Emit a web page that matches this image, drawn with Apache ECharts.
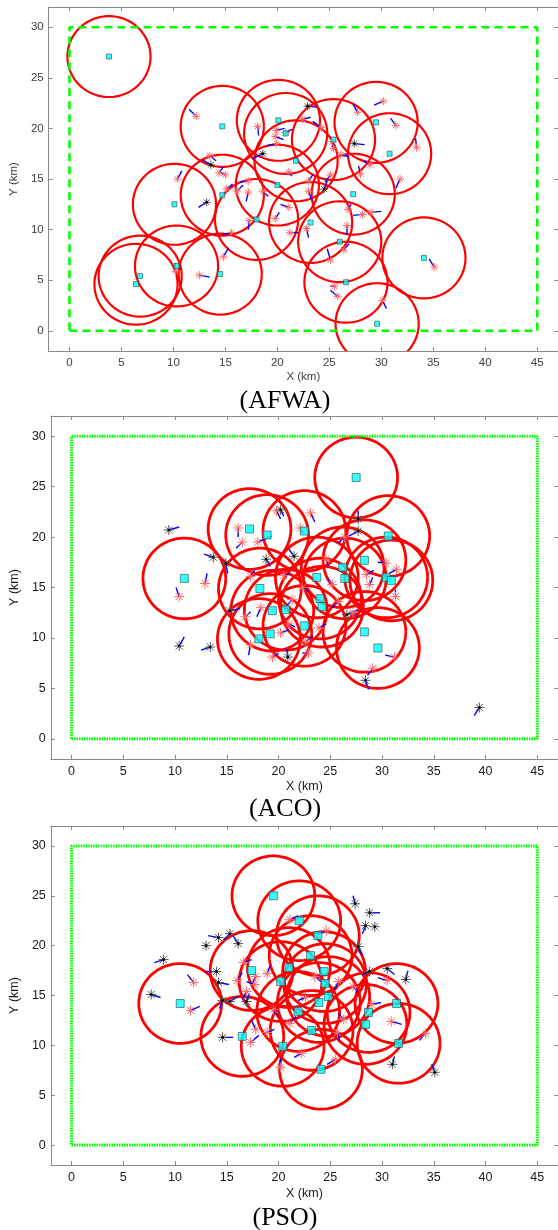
<!DOCTYPE html>
<html>
<head>
<meta charset="utf-8">
<script src="https://cdn.jsdelivr.net/npm/echarts@6/dist/echarts.min.js"></script>
<style>
  html, body { margin: 0; padding: 0; background: #fff; }
  #chart { width: 558px; height: 1230px; }
</style>
</head>
<body>
<div id="chart"></div>
<script>
// area boundary (km) and sensing radius
const boundary = [[0, 0], [45, 0], [45, 30], [0, 30], [0, 0]];
const sensingRadius = 4;
const tickValuesX = [0, 5, 10, 15, 20, 25, 30, 35, 40, 45];
const tickValuesY = [0, 5, 10, 15, 20, 25, 30];
const titles = ['(AFWA)', '(ACO)', '(PSO)'];

// ---- AFWA ----
const afwaCenters = [
  [3.8, 27.1], [14.7, 20.2], [20.1, 20.8], [20.8, 19.5], [25.4, 18.9], [29.5, 20.6],
  [30.8, 17.5], [21.8, 16.8], [20.0, 14.4], [14.7, 13.4], [10.1, 12.5], [18.0, 11.0],
  [27.3, 13.5], [23.2, 10.7], [26.0, 8.8], [34.1, 7.2], [26.6, 4.8], [29.6, 0.7],
  [10.3, 6.4], [14.5, 5.6], [6.8, 5.4], [6.4, 4.6]
];
// [x, y, dx, dy] : node position and its heading segment
const afwaCovered = [
  [12.2, 21.2, -0.7, 0.7], [18.1, 20.2, 0.1, -0.9], [19.9, 19.8, 0.8, 0.2], [19.8, 19.2, 0.8, -0.3],
  [19.9, 18.5, -0.9, -0.2], [13.5, 17.3, 0.6, -0.5], [14.4, 15.6, 0.4, 0.6], [15.0, 15.4, -0.5, 0.3],
  [10.4, 15.0, 0.4, 0.8], [15.1, 14.0, 0.6, 0.5], [17.2, 14.8, -0.8, -0.1], [17.2, 13.7, -0.2, -0.9],
  [16.1, 13.8, 0.6, 0.6], [30.2, 22.7, -0.9, -0.4], [27.7, 21.6, -0.4, 0.8], [31.4, 20.3, -0.5, 0.7],
  [33.4, 18.1, -0.1, 0.9], [22.4, 20.9, 0.8, 0.2], [24.2, 20.1, -0.8, 0.6], [25.3, 18.7, 0.1, -0.8],
  [25.4, 18.0, -0.2, 0.8], [28.0, 15.5, -0.2, 0.8], [28.9, 16.4, -0.6, 0.4], [31.8, 15.0, -0.4, -0.9],
  [26.1, 17.4, 0.8, -0.2], [25.1, 15.4, -0.5, -0.7], [21.1, 15.7, 0.3, -0.4], [20.8, 19.6, 0.6, 0.3],
  [23.0, 14.8, 0.4, 0.6], [23.0, 13.8, 0.3, -0.9], [21.1, 12.2, -0.8, 0.3], [21.2, 9.7, 0.8, 0.0],
  [22.8, 10.1, 0.2, -0.9], [26.8, 12.0, 0.3, 0.5], [28.2, 11.5, -0.9, -0.1], [29.0, 11.7, 1.0, 0.1],
  [26.7, 10.4, 0.0, -0.9], [26.4, 8.0, 0.5, 0.6], [25.1, 7.0, -0.3, 1.1], [35.1, 6.3, -0.5, 0.8],
  [25.5, 4.4, -0.4, 0.0], [25.8, 3.4, -0.7, 0.6], [30.1, 3.0, 0.4, -0.8], [17.3, 10.9, -0.1, -0.9],
  [15.6, 9.7, -0.9, -0.2], [14.8, 7.3, 0.5, 0.9], [10.2, 5.9, 0.0, 0.8], [12.5, 5.5, 1.0, -0.2],
  [19.8, 11.1, 0.4, 0.6], [18.6, 13.8, 0.5, -0.5]
];
const afwaUncovered = [
  [13.6, 16.4, -0.8, 0.5], [18.6, 17.5, -1.0, -0.5], [22.9, 22.2, 0.9, -0.1],
  [27.4, 18.5, 1.0, -0.1], [24.5, 14.0, 0.3, 0.8], [13.2, 12.7, -0.8, -0.5]
];

// ---- ACO ----
const acoCenters = [
  [27.5, 25.9], [17.2, 20.8], [18.9, 20.2], [22.5, 20.6], [30.6, 20.1], [10.9, 15.9],
  [28.3, 17.7], [26.2, 17.0], [26.4, 15.9], [30.4, 16.0], [30.9, 15.7], [23.7, 16.0],
  [24.0, 13.9], [24.2, 13.1], [18.2, 14.9], [19.4, 12.7], [20.7, 12.8], [22.5, 11.2],
  [28.3, 10.6], [29.6, 9.0], [18.1, 9.9], [19.2, 10.4]
];
const acoCovered = [
  [16.1, 20.9, 0.0, -0.9], [16.5, 19.5, -0.6, -0.6], [18.0, 19.5, 1.3, 0.6], [12.9, 15.4, 0.2, 1.0],
  [10.4, 14.1, -0.3, 0.9], [17.3, 16.1, 0.4, 0.6], [19.8, 22.6, 0.4, -0.8], [23.1, 22.4, 0.4, -0.9],
  [22.1, 20.9, 0.3, -0.5], [26.4, 20.0, -0.6, -0.6], [30.4, 17.4, -0.8, 0.1], [31.4, 16.8, -0.7, -0.4],
  [28.8, 15.3, 0.3, 0.7], [28.5, 16.3, 0.7, 0.4], [31.3, 14.1, 0.0, 0.7], [25.2, 15.3, -0.4, 0.5],
  [23.9, 11.0, 0.7, 0.4], [22.6, 9.6, 0.7, 0.6], [22.9, 8.5, -0.6, 0.0], [29.1, 7.0, -0.5, -0.7],
  [31.2, 8.1, -0.9, 0.2], [20.2, 10.5, 0.8, 0.3], [17.3, 9.3, -0.2, -1.0], [18.3, 13.0, -0.4, -0.9],
  [19.4, 8.1, 0.6, 0.4], [16.8, 12.1, 0.5, 0.5], [21.3, 13.8, -0.5, -0.6], [22.3, 15.0, 0.6, -0.4],
  [25.8, 13.6, -0.6, -0.6], [27.2, 12.5, 0.5, -0.5], [20.5, 16.2, 0.6, 0.2], [24.6, 17.8, 0.2, -0.7],
  [21.0, 11.4, 0.6, -0.3]
];
const acoUncovered = [
  [9.4, 20.7, 1.0, 0.3], [13.7, 18.0, -0.9, 0.3], [14.9, 17.4, 0.2, -1.0], [15.3, 12.7, 1.0, 0.2],
  [10.4, 9.2, 0.5, 0.9], [13.4, 9.1, -0.9, -0.3], [26.6, 12.3, 1.1, 0.5], [28.4, 5.8, 0.3, -0.9],
  [39.4, 3.1, -0.5, -0.8], [20.9, 8.1, -0.1, 0.8], [27.7, 21.8, 0.0, 0.8], [27.7, 20.6, -0.9, -0.5],
  [21.5, 18.1, -0.5, 0.7], [20.2, 22.7, 0.3, -0.6], [18.8, 17.8, 0.4, -0.7]
];

// ---- PSO ----
const psoCenters = [
  [19.5, 25.0], [22.0, 22.5], [23.8, 21.0], [23.1, 19.0], [21.0, 17.8], [17.4, 17.5],
  [24.4, 17.4], [20.2, 16.4], [24.5, 16.2], [10.5, 14.2], [24.8, 14.9], [23.9, 14.3],
  [21.9, 13.4], [31.4, 14.2], [28.7, 13.3], [28.4, 12.1], [23.2, 11.5], [16.5, 10.9],
  [20.4, 9.9], [31.6, 10.2], [24.1, 7.6]
];
const psoCovered = [
  [11.8, 16.3, -0.6, 0.8], [11.5, 13.5, 0.9, 0.4], [16.6, 18.3, 0.8, 0.3], [16.0, 16.5, 0.5, 0.8],
  [17.8, 16.9, -0.4, -0.8], [18.9, 17.2, 0.3, 0.8], [17.7, 16.1, -0.8, 0.3], [16.9, 15.4, -0.4, -0.8],
  [21.1, 22.6, 0.8, 0.4], [24.6, 21.5, -0.8, -0.4], [23.5, 16.9, 0.6, -0.5], [25.8, 16.4, -0.4, -0.8],
  [30.5, 16.5, -0.9, 0.3], [30.9, 12.4, 1.0, -0.3], [29.0, 14.1, 0.9, 0.2], [27.2, 15.9, 0.5, -0.6],
  [34.2, 11.2, -0.6, -0.7], [25.5, 8.6, -0.8, -0.5], [21.1, 12.2, 0.6, 0.7], [20.2, 7.8, 0.0, 0.9],
  [17.3, 10.3, 0.8, 0.7], [17.8, 11.6, -0.4, 0.9], [18.9, 11.3, 0.7, 0.3], [22.6, 14.8, -0.7, -0.3],
  [26.3, 12.6, -0.5, 0.6], [19.5, 13.6, 0.5, -0.7], [25.7, 11.3, 0.2, -0.9], [22.2, 9.2, -0.7, -0.4]
];
const psoUncovered = [
  [7.7, 15.1, 0.9, -0.3], [8.9, 18.6, -0.9, -0.3], [13.0, 20.0, 0, 0], [14.2, 20.8, -1.0, 0.2],
  [15.3, 21.2, -0.6, -0.6], [16.1, 20.2, -0.5, 0.8], [14.0, 17.4, -1.0, 0.0], [14.2, 16.3, 1.0, -0.2],
  [14.6, 14.5, -0.3, -0.8], [15.3, 14.4, 0.8, 0.5], [16.9, 14.4, 0.3, 0.8], [14.6, 10.8, 1.0, 0.0],
  [27.4, 24.2, -0.2, 0.8], [28.8, 23.3, 1.0, 0.0], [28.4, 22.0, -0.3, -0.8], [29.3, 21.9, 0, 0],
  [27.7, 19.9, 0.4, -0.9], [28.8, 17.4, -0.7, -0.3], [30.5, 17.7, 0.7, -0.6], [32.3, 16.6, 0.2, 0.9],
  [31.0, 8.1, 0.2, 0.8], [35.1, 7.3, -0.3, 0.8]
];

const panels = [
  { grid: { left: 42, top: 7, width: 518, height: 344 }, centers: afwaCenters, covered: afwaCovered,
    uncovered: afwaUncovered, dash: [8, 5], boundW: 2.6, lab: 11.5, labColor: '#404040', sq: 5, circW: 2.2,
    star: 4, titleY: 401, nameGapX: 20, nameGapY: 19 },
  { grid: { left: 46, top: 416, width: 514, height: 343 }, centers: acoCenters, covered: acoCovered,
    uncovered: acoUncovered, dash: [1.5, 1], boundW: 3, lab: 12.5, labColor: '#1a1a1a', sq: 8, circW: 2.8,
    star: 5, titleY: 809, nameGapX: 21, nameGapY: 24 },
  { grid: { left: 49, top: 826, width: 513, height: 339 }, centers: psoCenters, covered: psoCovered,
    uncovered: psoUncovered, dash: [1.5, 1], boundW: 3, lab: 12.5, labColor: '#1a1a1a', sq: 8, circW: 2.8,
    star: 5, titleY: 1218, nameGapX: 22, nameGapY: 24 }
];

const axisGrey = '#8a8a8a';

function circleItem(lw) {
  return function (params, api) {
    const cx = api.value(0), cy = api.value(1);
    const pts = [];
    for (let k = 0; k <= 90; k++) {
      const a = k / 90 * Math.PI * 2;
      pts.push(api.coord([cx + sensingRadius * Math.cos(a), cy + sensingRadius * Math.sin(a)]));
    }
    return { type: 'polyline', shape: { points: pts }, style: { stroke: '#ff0000', lineWidth: lw, fill: 'none' } };
  };
}

function headingItem(params, api) {
  const dx = api.value(2), dy = api.value(3);
  if (dx === 0 && dy === 0) return null;
  const p0 = api.coord([api.value(0), api.value(1)]);
  const p1 = api.coord([api.value(0) + dx, api.value(1) + dy]);
  return { type: 'line', shape: { x1: p0[0], y1: p0[1], x2: p1[0], y2: p1[1] },
    style: { stroke: '#0000ff', lineWidth: 1.4 } };
}

function starItem(color, r, w, dot) {
  return function (params, api) {
    const c = api.coord([api.value(0), api.value(1)]);
    const kids = [];
    for (let k = 0; k < 4; k++) {
      const a = k * Math.PI / 4;
      const ux = Math.cos(a) * r, uy = Math.sin(a) * r;
      kids.push({ type: 'line', shape: { x1: c[0] - ux, y1: c[1] - uy, x2: c[0] + ux, y2: c[1] + uy },
        style: { stroke: color, lineWidth: w } });
    }
    if (dot) {
      kids.push({ type: 'circle', shape: { cx: c[0], cy: c[1], r: 1.3 }, style: { fill: dot } });
    }
    return { type: 'group', children: kids };
  };
}

const grids = [], xAxes = [], yAxes = [], series = [], graphics = [];

panels.forEach(function (p, i) {
  grids.push(p.grid);
  const labelFont = { fontFamily: 'Liberation Sans', fontSize: p.lab, color: p.labColor };
  const line = { onZero: false, lineStyle: { color: axisGrey, width: 1 } };
  xAxes.push({
    gridIndex: i, type: 'value', min: -2, max: 47, position: 'bottom',
    name: 'X (km)', nameLocation: 'middle', nameGap: p.nameGapX,
    nameTextStyle: labelFont,
    axisLine: line,
    axisTick: { inside: true, length: 4, customValues: tickValuesX, lineStyle: { color: axisGrey } },
    axisLabel: Object.assign({ customValues: tickValuesX, margin: 6 }, labelFont),
    splitLine: { show: false }
  });
  xAxes.push({
    gridIndex: i, type: 'value', min: -2, max: 47, position: 'top',
    axisLine: line,
    axisTick: { inside: true, length: 4, customValues: tickValuesX, lineStyle: { color: axisGrey } },
    axisLabel: { show: false }, splitLine: { show: false }
  });
  yAxes.push({
    gridIndex: i, type: 'value', min: -2, max: 32, position: 'left',
    name: 'Y (km)', nameLocation: 'middle', nameGap: p.nameGapY,
    nameTextStyle: labelFont,
    axisLine: line,
    axisTick: { inside: true, length: 4, customValues: tickValuesY, lineStyle: { color: axisGrey } },
    axisLabel: Object.assign({ customValues: tickValuesY, margin: 5 }, labelFont),
    splitLine: { show: false }
  });
  yAxes.push({
    gridIndex: i, type: 'value', min: -2, max: 32, position: 'right',
    axisLine: line,
    axisTick: { inside: true, length: 4, customValues: tickValuesY, lineStyle: { color: axisGrey } },
    axisLabel: { show: false }, splitLine: { show: false }
  });

  const xi = 2 * i, yi = 2 * i;
  series.push({
    type: 'line', xAxisIndex: xi, yAxisIndex: yi, data: boundary, showSymbol: false, silent: true,
    lineStyle: { color: '#00ff00', width: p.boundW, type: p.dash }
  });
  series.push({
    type: 'custom', xAxisIndex: xi, yAxisIndex: yi, clip: true, data: p.centers,
    encode: { x: 0, y: 1 }, renderItem: circleItem(p.circW)
  });
  series.push({
    type: 'custom', xAxisIndex: xi, yAxisIndex: yi, clip: true, data: p.covered.concat(p.uncovered),
    encode: { x: 0, y: 1 }, renderItem: headingItem
  });
  series.push({
    type: 'custom', xAxisIndex: xi, yAxisIndex: yi, clip: true, data: p.covered,
    encode: { x: 0, y: 1 }, renderItem: starItem('#ff6a6a', p.star, 1, null)
  });
  series.push({
    type: 'custom', xAxisIndex: xi, yAxisIndex: yi, clip: true, data: p.uncovered,
    encode: { x: 0, y: 1 }, renderItem: starItem('#555555', p.star, 1, '#000')
  });
  series.push({
    type: 'scatter', xAxisIndex: xi, yAxisIndex: yi, data: p.centers, symbol: 'rect', symbolSize: p.sq,
    itemStyle: { color: '#00ffff', borderColor: '#2f4f4f', borderWidth: 0.8 }
  });

  graphics.push({
    type: 'text', x: 285, y: p.titleY,
    style: { text: titles[i], font: '26px "Liberation Serif"', fill: '#000',
      align: 'center', verticalAlign: 'middle', textAlign: 'center', textVerticalAlign: 'middle' }
  });
});

const chart = echarts.init(document.getElementById('chart'), null, { renderer: 'canvas' });
chart.setOption({
  backgroundColor: '#fff',
  animation: false,
  grid: grids,
  xAxis: xAxes,
  yAxis: yAxes,
  series: series,
  graphic: graphics
});
</script>
</body>
</html>
